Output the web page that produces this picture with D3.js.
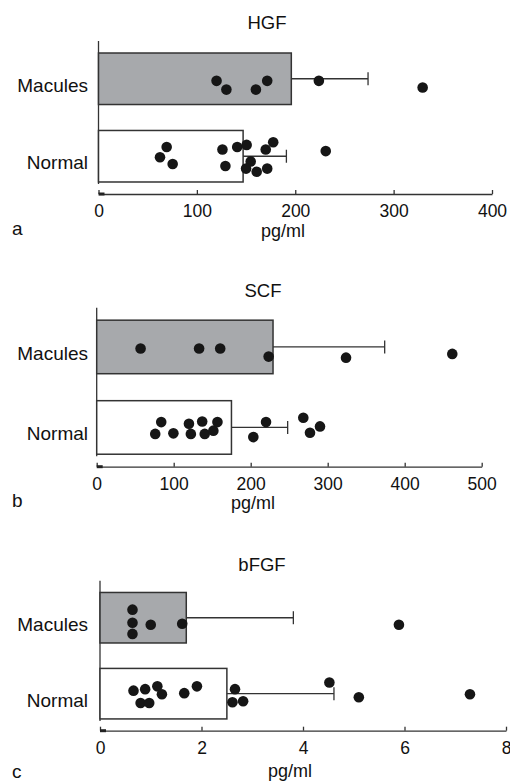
<!DOCTYPE html>
<html>
<head>
<meta charset="utf-8">
<script src="https://cdn.jsdelivr.net/npm/d3@7"></script>
<style>
	body { margin: 0; background: #fff; }
	svg { display: block; font-family: "Liberation Sans", Arial, sans-serif; }
	.axis path, .axis line { stroke: #333; stroke-width: 1.3; }
	.axis text { font-size: 17.5px; fill: #111; }
</style>
</head>
<body>
<svg width="510" height="782"></svg>
<script>
var categories = ["Macules", "Normal"];
var panelNames = ["HGF", "SCF", "bFGF"];
var panelLetters = ["a", "b", "c"];
var unitLabel = "pg/ml";
var xMax = [400, 500, 8];
var xTicks = [[0, 100, 200, 300, 400], [0, 100, 200, 300, 400, 500], [0, 2, 4, 6, 8]];

// bar means and SD (Macules, Normal)
var meanValues = [[196, 147], [229, 175], [1.70, 2.50]];
var sdValues = [[78, 44], [145, 73], [2.11, 2.11]];

// individual points: [value, vertical jitter as fraction of bar height]
var hgfMacules = [[120, 0.04], [130, 0.21], [160, 0.21], [171.5, 0.04], [224, 0.04], [329.5, 0.17]];
var hgfNormal = [[69.3, -0.18], [62.5, 0.02], [75.4, 0.15], [126, -0.13], [129, 0.19], [141, -0.18], [150.6, -0.22],
	[154.7, 0.10], [150, 0.24], [160.8, 0.30], [170, -0.13], [177.6, -0.27], [171.5, 0.24], [231, -0.10]];
var scfMacules = [[57, 0.03], [133, 0.03], [160.4, 0.03], [223.3, 0.18], [323.8, 0.20], [461.8, 0.13]];
var scfNormal = [[83.8, -0.10], [76, 0.12], [99.6, 0.11], [119.8, -0.07], [122.3, 0.12], [137, -0.11], [140.3, 0.12],
	[151.5, 0.06], [156.8, -0.10], [203.4, 0.18], [219.9, -0.10], [268.3, -0.18], [277, 0.10], [290, -0.02]];
var fgfMacules = [[0.64, -0.16], [0.64, 0.10], [0.64, 0.32], [1.0, 0.14], [1.62, 0.12], [5.89, 0.14]];
var fgfNormal = [[0.66, -0.06], [0.89, -0.09], [1.13, -0.145], [1.22, 0.01], [0.80, 0.185], [0.97, 0.185], [1.66, -0.01],
	[1.91, -0.145], [2.66, -0.09], [2.61, 0.17], [2.82, 0.15], [4.52, -0.22], [5.1, 0.07], [7.29, 0.01]];
var points = [[hgfMacules, hgfNormal], [scfMacules, scfNormal], [fgfMacules, fgfNormal]];

var barFill = ["#a7a9ac", "#ffffff"];

// panel placement on the page
var layout = [
	{x0: 98.5, x1: 492, top: 41, axisY: 194, titleX: 267, titleY: 29, unitX: 283, unitY: 237, letterY: 235},
	{x0: 96.7, x1: 481.7, top: 307.7, axisY: 466.7, titleX: 263, titleY: 297, unitX: 253, unitY: 509, letterY: 507},
	{x0: 100, x1: 506, top: 580.7, axisY: 730.7, titleX: 262, titleY: 571, unitX: 290, unitY: 777, letterY: 778}
];

var svg = d3.select("svg");

function drawPanel(p) {
	var L = layout[p];
	var g = svg.append("g");

	var x = d3.scaleLinear().domain([0, xMax[p]]).range([L.x0, L.x1]);
	var y = d3.scaleBand().domain(categories).range([L.top, L.axisY]).paddingInner(0.335).paddingOuter(0.155);
	var bw = y.bandwidth();

	// title
	g.append("text").attr("x", L.titleX).attr("y", L.titleY).attr("text-anchor", "middle")
		.style("font-size", "18.5px").attr("fill", "#111").text(panelNames[p]);

	// y axis line
	g.append("line").attr("x1", L.x0).attr("x2", L.x0).attr("y1", L.top).attr("y2", y("Normal") + bw + 2)
		.attr("stroke", "#333").attr("stroke-width", 1.3);

	// category labels
	g.selectAll(".cat").data(categories).enter().append("text")
		.attr("x", 88).attr("y", function(d) { return y(d) + bw / 2 + 13; })
		.attr("text-anchor", "end").style("font-size", "19px").attr("fill", "#111")
		.text(function(d) { return d; });

	// bars
	g.selectAll(".bar").data(categories).enter().append("rect")
		.attr("x", x(0)).attr("y", function(d) { return y(d); })
		.attr("width", function(d, i) { return x(meanValues[p][i]) - x(0); })
		.attr("height", bw)
		.attr("fill", function(d, i) { return barFill[i]; })
		.attr("stroke", "#333").attr("stroke-width", 1.5);

	// error bars (upper SD only)
	categories.forEach(function(c, i) {
		var cy = y(c) + bw / 2;
		var xa = x(meanValues[p][i]), xb = x(meanValues[p][i] + sdValues[p][i]);
		g.append("line").attr("x1", xa).attr("x2", xb).attr("y1", cy).attr("y2", cy)
			.attr("stroke", "#333").attr("stroke-width", 1.3);
		g.append("line").attr("x1", xb).attr("x2", xb).attr("y1", cy - 6.5).attr("y2", cy + 6.5)
			.attr("stroke", "#333").attr("stroke-width", 1.3);
	});

	// points
	categories.forEach(function(c, i) {
		g.selectAll(".pt" + i).data(points[p][i]).enter().append("circle")
			.attr("cx", function(d) { return x(d[0]); })
			.attr("cy", function(d) { return y(c) + bw / 2 + d[1] * bw; })
			.attr("r", 5.3)
			.attr("fill", "#161616");
	});

	// x axis
	var xAxis = d3.axisBottom(x).tickValues(xTicks[p]).tickSizeInner(-4).tickSizeOuter(0).tickPadding(11)
		.tickFormat(d3.format("d"));
	g.append("g").attr("class", "axis").attr("transform", "translate(0," + L.axisY + ")").call(xAxis);
	g.append("line").attr("x1", L.x0).attr("x2", L.x0 + 6).attr("y1", L.axisY).attr("y2", L.axisY)
		.attr("stroke", "#222").attr("stroke-width", 3);

	g.append("text").attr("x", L.unitX).attr("y", L.unitY).attr("text-anchor", "middle")
		.style("font-size", "18px").attr("fill", "#111").text(unitLabel);
	g.append("text").attr("x", 12).attr("y", L.letterY)
		.style("font-size", "19px").attr("fill", "#111").text(panelLetters[p]);
}

for (var p = 0; p < 3; p++) drawPanel(p);
</script>
</body>
</html>
